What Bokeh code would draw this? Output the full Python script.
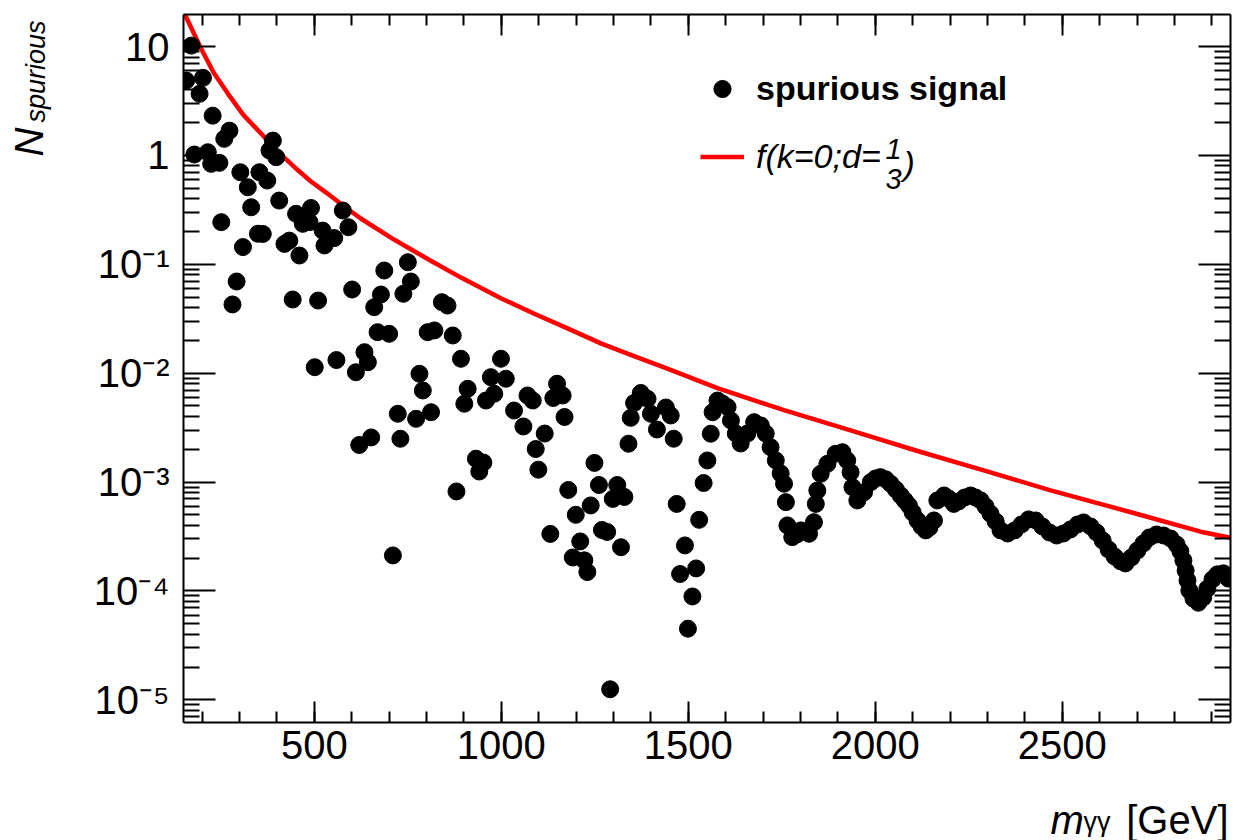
import math
from bokeh.plotting import figure
from bokeh.layouts import row, column
from bokeh.models import (Range1d, LinearAxis, LogAxis, FixedTicker, CustomJSTickFormatter,
                          Label, Legend, LegendItem)
from bokeh.embed import file_html
from bokeh.resources import INLINE

# ---------------- data ----------------
m_points = [157, 171, 179, 193, 202, 215, 224, 228, 246, 251, 259, 273, 281, 292, 302, 309, 322, 331,
            349, 353, 362, 374, 380, 389, 398, 406, 420, 433, 442, 451, 460, 469, 487, 491, 501, 510,
            522, 527, 553, 559, 576, 591, 601, 611, 620, 634, 643, 652, 660, 669, 678, 687, 700, 710,
            723, 730, 738, 750, 758, 772, 781, 790, 803, 812, 821, 841, 856, 870, 880, 892, 901, 910,
            932, 941, 952, 959, 972, 981, 999, 1012, 1034, 1059, 1070, 1084, 1092, 1099, 1116, 1131,
            1139, 1149, 1164, 1169, 1179, 1191, 1199, 1211, 1222, 1230, 1239, 1249, 1261, 1269, 1283,
            1291, 1298, 1310, 1320, 1329, 1340, 1346, 1355, 1373, 1391, 1400, 1416, 1440, 1453, 1461,
            1469, 1478, 1491, 1499, 1511, 1521, 1529, 1541, 1551, 1560, 1565, 1578, 1591, 1605, 1614,
            1627, 1640, 1658, 1676, 1694, 1707, 1720, 1734, 1747, 1756, 1761, 1765, 1778, 1790, 1801,
            1811, 1823, 1836, 1841, 1845, 1854, 1872, 1894, 1912, 1925, 1934, 1939, 1952, 1970, 1988,
            2001, 2014, 2028, 2041, 2055, 2068, 2079, 2090, 2100, 2113, 2124, 2135, 2145, 2157, 2166,
            2184, 2196, 2210, 2223, 2239, 2255, 2268, 2282, 2295, 2308, 2322, 2335, 2354, 2373, 2391,
            2410, 2429, 2447, 2466, 2485, 2503, 2522, 2541, 2557, 2576, 2592, 2608, 2624, 2640, 2656,
            2669, 2685, 2701, 2717, 2733, 2752, 2771, 2790, 2806, 2816, 2824, 2830, 2835, 2840, 2851,
            2864, 2877, 2888, 2902, 2915, 2931, 2944]

n_points = [4.87, 10.2, 1.02, 3.68, 5.16, 1.07, 0.837, 2.32, 0.855, 0.244, 1.42, 1.69, 0.0428, 0.0695,
            0.701, 0.144, 0.51, 0.334, 0.191, 0.701, 0.19, 0.588, 1.11, 1.37, 0.963, 0.385, 0.154,
            0.165, 0.0475, 0.291, 0.1205, 0.2355, 0.244, 0.329, 0.01135, 0.0465, 0.204, 0.149, 0.174,
            0.0132, 0.312, 0.219, 0.0587, 0.0102, 0.00219, 0.0156, 0.0126, 0.00257, 0.0404, 0.0238,
            0.0528, 0.0877, 0.023, 2.12e-4, 0.00424, 0.0025, 0.0536, 0.1045, 0.0695, 0.00381, 0.00987,
            0.00694, 0.0238, 0.00438, 0.0247, 0.0449, 0.0418, 0.0222, 8.2e-4, 0.01356, 0.00524,
            0.00719, 0.00164, 0.00125, 0.00151, 0.00561, 0.00919, 0.00647, 0.01356, 0.00889, 0.00454,
            0.00324, 0.00624, 0.00561, 0.00201, 0.0013, 0.00279, 3.34e-4, 0.00592, 0.008, 0.00624,
            0.00396, 8.46e-4, 2.03e-4, 5.0e-4, 2.85e-4, 1.91e-4, 1.49e-4, 6.1e-4, 0.0015, 9.4e-4,
            3.63e-4, 3.48e-4, 1.25e-5, 7.0e-4, 9.4e-4, 2.52e-4, 7.3e-4, 0.00225, 0.00389, 0.00532,
            0.00658, 0.00582, 0.00424, 0.00304, 0.00484, 0.00409, 0.0025, 6.3e-4, 1.43e-4, 2.62e-4,
            4.5e-5, 8.9e-5, 1.61e-4, 4.5e-4, 9.8e-4, 0.00158, 0.00278, 0.00438, 0.00561, 0.00527,
            0.00488, 0.00368, 0.00279, 0.00226, 0.00279, 0.00355, 0.00331, 0.00279, 0.00209, 0.00158,
            0.0012, 9.65e-4, 6.54e-4, 4.0e-4, 3.12e-4, 3.3e-4, 3.6e-4, 3.52e-4, 3.35e-4, 4.28e-4,
            6.3e-4, 8.37e-4, 0.00119, 0.00147, 0.00182, 0.00188, 0.00158, 0.00123, 8.98e-4, 6.78e-4,
            8.07e-4, 9.98e-4, 0.00108, 0.00111, 0.00106, 9.65e-4, 8.55e-4, 7.53e-4, 6.78e-4, 6.1e-4,
            5.26e-4, 4.44e-4, 3.91e-4, 3.6e-4, 3.83e-4, 4.44e-4, 6.78e-4, 7.53e-4, 7.07e-4, 6.3e-4,
            6.64e-4, 7.22e-4, 7.53e-4, 7.22e-4, 6.78e-4, 5.97e-4, 5.12e-4, 4.35e-4, 3.6e-4, 3.37e-4,
            3.6e-4, 4.08e-4, 4.54e-4, 4.44e-4, 3.91e-4, 3.44e-4, 3.23e-4, 3.37e-4, 3.67e-4, 4.08e-4,
            4.26e-4, 3.91e-4, 3.44e-4, 2.91e-4, 2.4e-4, 2.07e-4, 1.87e-4, 1.79e-4, 2.03e-4, 2.35e-4,
            2.73e-4, 3.1e-4, 3.3e-4, 3.23e-4, 3.03e-4, 2.67e-4, 2.31e-4, 1.91e-4, 1.54e-4, 1.25e-4,
            1.01e-4, 8.5e-5, 7.8e-5, 8.7e-5, 1.05e-4, 1.28e-4, 1.42e-4, 1.45e-4, 1.3e-4]

curve_m = [150, 175, 197, 230, 269, 310, 358, 400, 447, 490, 536, 580, 625, 714, 803, 892, 1000,
           1088, 1180, 1266, 1360, 1444, 1578, 1756, 1934, 2113, 2290, 2469, 2691, 2870, 2950]
curve_n = [21.0, 13.8, 9.6, 5.8, 3.68, 2.36, 1.58, 1.1, 0.78, 0.58, 0.444, 0.34, 0.262, 0.168,
           0.112, 0.0755, 0.0485, 0.0352, 0.0255, 0.0188, 0.0141, 0.0110, 0.00728, 0.00458,
           0.00298, 0.00193, 0.00128, 8.4e-4, 5.2e-4, 3.5e-4, 3.08e-4]

x_major_ticks = [500, 1000, 1500, 2000, 2500]
y_exponents = [-5, -4, -3, -2, -1, 0, 1]

series_label = "spurious signal"
fit_label = "f(k=0;d="

FONT = "Liberation Sans"

# ---------------- layout geometry (canvas px) ----------------
YT_W = 60            # strip on the left holding the y-axis title
XT_H = 50            # strip at the bottom holding the x-axis title
MAIN_W, MAIN_H = 1255 - YT_W, 840 - XT_H
FL, FB = 183, 722    # frame left / bottom in canvas px

p = figure(width=MAIN_W, height=MAIN_H, output_backend="svg", toolbar_location=None,
           x_range=Range1d(150, 2950), y_range=Range1d(6.19e-6, 19.7), y_axis_type="log",
           min_border_left=FL - YT_W, min_border_right=25, min_border_top=14,
           min_border_bottom=MAIN_H - FB)
p.background_fill_color = "white"
p.border_fill_color = "white"
p.outline_line_color = None
p.grid.visible = False

xticker = FixedTicker(ticks=x_major_ticks, minor_ticks=list(range(100, 3001, 100)))
yticker = FixedTicker(ticks=[10.0 ** e for e in y_exponents],
                      minor_ticks=[k * 10.0 ** e for e in range(-6, 2) for k in range(2, 10)])

yfmt = CustomJSTickFormatter(code="""
const e = Math.round(Math.log10(tick));
if (e == 1) return "10";
if (e == 0) return "1";
const sup = {"0":"\u2070","1":"\u00b9","2":"\u00b2","3":"\u00b3","4":"\u2074","5":"\u2075",
             "6":"\u2076","7":"\u2077","8":"\u2078","9":"\u2079","-":"\u207b"};
return "10" + String(e).split("").map(c => sup[c]).join("");
""")
blank_fmt = CustomJSTickFormatter(code="return '';")


def style_axis(ax, major_len, minor_len, labels=True):
    ax.axis_line_color = "black"
    ax.axis_line_width = 2
    ax.major_tick_line_color = "black"
    ax.major_tick_line_width = 2
    ax.minor_tick_line_color = "black"
    ax.minor_tick_line_width = 2
    ax.major_tick_in = major_len
    ax.major_tick_out = 0
    ax.minor_tick_in = minor_len
    ax.minor_tick_out = 0
    ax.major_label_text_font = FONT
    ax.major_label_text_font_size = "40px"
    ax.major_label_text_color = "black"
    if not labels:
        ax.formatter = blank_fmt
        ax.major_label_text_font_size = "1px"
        ax.major_label_standoff = 0


xb = p.xaxis[0]
xb.ticker = xticker
style_axis(xb, 21, 11)
xb.major_label_standoff = 8

yl = p.yaxis[0]
yl.ticker = yticker
yl.formatter = yfmt
style_axis(yl, 32, 16)
yl.major_label_standoff = 14

xt = LinearAxis(ticker=xticker)
style_axis(xt, 21, 11, labels=False)
p.add_layout(xt, "above")

yr = LogAxis(ticker=yticker)
style_axis(yr, 32, 16, labels=False)
p.add_layout(yr, "right")

# ---------------- glyphs ----------------
fit_r = p.line(curve_m, curve_n, line_color="#ff0000", line_width=4.5)
pts_r = p.scatter(m_points, n_points, size=17, fill_color="black", line_color="black")

# ---------------- legends ----------------
leg1 = Legend(items=[LegendItem(label=series_label, renderers=[pts_r])],
              location=(700 - FL, FB - 110), orientation="vertical",
              glyph_width=44, glyph_height=43, label_standoff=12, padding=0, margin=0,
              border_line_color=None, background_fill_alpha=0,
              label_text_font=FONT, label_text_font_size="34px", label_text_font_style="bold",
              label_text_color="black")
leg2 = Legend(items=[LegendItem(label=fit_label, renderers=[fit_r])],
              location=(700 - FL, FB - 178), orientation="vertical",
              glyph_width=44, glyph_height=43, label_standoff=12, padding=0, margin=0,
              border_line_color=None, background_fill_alpha=0,
              label_text_font=FONT, label_text_font_size="34px", label_text_font_style="italic",
              label_text_color="black")
p.add_layout(leg1)
p.add_layout(leg2)


def add_label(fig, text, sx, sy, size, style="normal", align="left", angle=0.0):
    fig.add_layout(Label(x=sx, y=sy, x_units="screen", y_units="screen", text=text,
                         text_font=FONT, text_font_size=size, text_font_style=style,
                         text_color="black", text_align=align, text_baseline="alphabetic",
                         angle=angle))


# fraction 1/3 and closing parenthesis of the fit label (inside the main frame)
add_label(p, "1", 893 - FL, FB - 148, "29px", "italic", "center")
add_label(p, "3", 893 - FL, FB - 178, "29px", "italic", "center")
add_label(p, ")", 903 - FL, FB - 162, "34px", "italic", "left")


def strip(width, height):
    f = figure(width=width, height=height, output_backend="svg", toolbar_location=None,
               x_range=Range1d(0, width), y_range=Range1d(0, height),
               x_axis_location=None, y_axis_location=None,
               min_border=0, min_border_left=0, min_border_right=0,
               min_border_top=0, min_border_bottom=0)
    f.outline_line_color = None
    f.grid.visible = False
    f.background_fill_color = "white"
    f.border_fill_color = "white"
    return f


# offsets of the strips' frames as they come out of the layout (calibrated from a render)
YT_DX, YT_BOTTOM = 15, 718
XT_BOTTOM = 854

# y-axis title: N_{spurious} (rotated), in the left strip
ytit = strip(YT_W, MAIN_H)
add_label(ytit, "N", 43 - YT_DX, YT_BOTTOM - 152, "40px", "italic", "left", math.pi / 2)
add_label(ytit, "spurious", 50 - YT_DX, YT_BOTTOM - 118, "27px", "italic", "left", math.pi / 2)

# x-axis title: m_{γγ} [GeV], in the bottom strip
xtit = strip(1255, XT_H)
add_label(xtit, "m", 1050, XT_BOTTOM - 833, "40px", "italic")
add_label(xtit, "\u03b3\u03b3", 1083, XT_BOTTOM - 835, "27px", "normal")
add_label(xtit, "[GeV]", 1228, XT_BOTTOM - 833, "40px", "normal", "right")

layout = column(row(ytit, p, spacing=0), xtit, spacing=0)

open("out.html", "w").write(file_html(layout, INLINE))
